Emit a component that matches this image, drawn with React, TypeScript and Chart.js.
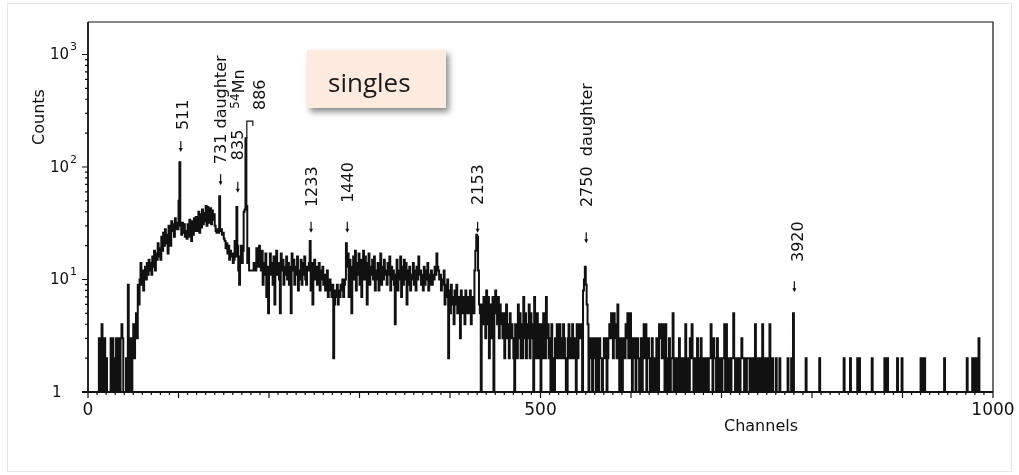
import React, { useEffect, useRef } from 'react';
import { Chart, registerables } from 'chart.js';

Chart.register(...registerables);

// ---- data: counts per channel (value 1 = empty / baseline) ----
const X_MIN = 0;
const X_MAX = 1000;
const Y_MIN = 1;
const Y_MAX = 1945;

const counts000 = [
  1, 1, 1, 1, 1, 1, 1, 1, 1, 1,
  1, 1, 1, 3, 3, 1, 4, 1, 2, 3,
  1, 2, 1, 1, 1, 1, 3, 1, 3, 2,
  1, 1, 3, 1, 3, 3, 1, 3, 4, 3,
  1, 1, 1, 2, 1, 9, 1, 3, 2, 1,
  3, 4, 2, 4, 5, 3, 9, 6, 10, 14,
  9, 12, 8, 11, 13, 10, 14, 11, 15, 12,
  14, 11, 16, 13, 18, 12, 17, 15, 21, 16,
  19, 15, 24, 18, 26, 20, 28, 21, 25, 17,
  30, 24, 20, 33, 27, 31, 24, 35, 28, 32,
];
const counts100 = [
  28, 50, 110, 30, 25, 32, 26, 31, 24, 27,
  23, 31, 24, 34, 26, 22, 33, 25, 35, 27,
  36, 27, 33, 40, 26, 38, 29, 42, 31, 39,
  33, 45, 30, 44, 36, 32, 43, 31, 41, 34,
  38, 30, 27, 26, 28, 26, 55, 27, 28, 25,
  26, 23, 22, 19, 21, 17, 20, 15, 18, 16,
  17, 14, 15, 22, 16, 44, 20, 12, 9, 16,
  20, 14, 18, 40, 42, 180, 45, 14, 19, 12,
  12, 12, 12, 12, 14, 12, 12, 19, 15, 13,
  20, 16, 12, 18, 9, 14, 11, 17, 7, 13,
];
const counts200 = [
  5, 12, 17, 11, 14, 9, 16, 6, 13, 18,
  11, 14, 10, 5, 17, 12, 15, 9, 13, 11,
  16, 10, 14, 9, 13, 5, 17, 12, 15, 9,
  13, 11, 16, 8, 12, 10, 15, 9, 14, 11,
  16, 10, 9, 13, 12, 14, 22, 8, 14, 6,
  12, 15, 10, 13, 9, 11, 14, 8, 12, 10,
  13, 9, 11, 8, 10, 12, 7, 9, 10, 8,
  7, 9, 2, 6, 8, 7, 9, 6, 8, 7,
  9, 8, 10, 7, 9, 10, 21, 13, 17, 7,
  15, 9, 5, 13, 16, 10, 18, 8, 14, 11,
];
const counts300 = [
  17, 9, 15, 7, 12, 18, 10, 16, 11, 6,
  14, 17, 9, 13, 11, 15, 10, 16, 8, 12,
  10, 14, 8, 12, 17, 9, 13, 10, 15, 11,
  12, 9, 14, 11, 16, 8, 13, 10, 12, 9,
  4, 11, 15, 8, 12, 10, 16, 7, 13, 9,
  15, 10, 14, 6, 12, 9, 13, 8, 11, 10,
  14, 9, 12, 8, 13, 10, 16, 11, 12, 9,
  11, 8, 13, 9, 12, 10, 14, 8, 11, 9,
  12, 9, 11, 10, 13, 11, 17, 13, 12, 10,
  11, 8, 10, 9, 12, 6, 9, 7, 10, 2,
];
const counts400 = [
  8, 5, 9, 6, 7, 4, 8, 6, 9, 5,
  7, 6, 3, 8, 5, 7, 6, 4, 8, 5,
  6, 7, 5, 8, 4, 6, 7, 5, 12, 18,
  25, 24, 12, 6, 5, 1, 6, 4, 7, 5,
  3, 8, 4, 7, 2, 5, 6, 3, 7, 1,
  5, 8, 6, 4, 7, 3, 6, 4, 5, 3,
  5, 2, 4, 6, 3, 4, 2, 5, 3, 4,
  3, 2, 1, 4, 3, 2, 6, 3, 5, 2,
  4, 2, 7, 3, 5, 2, 4, 3, 6, 2,
  5, 3, 4, 1, 7, 2, 3, 5, 2, 4,
];
const counts500 = [
  3, 1, 4, 2, 5, 3, 2, 7, 3, 4,
  2, 3, 1, 4, 1, 2, 1, 3, 2, 4,
  3, 2, 4, 2, 3, 2, 4, 3, 2, 1,
  1, 3, 4, 2, 3, 2, 4, 3, 2, 3,
  1, 4, 2, 4, 3, 4, 4, 1, 8, 10,
  13, 9, 6, 4, 1, 3, 2, 3, 1, 2,
  3, 2, 1, 3, 2, 1, 3, 2, 2, 1,
  2, 3, 2, 3, 1, 2, 3, 4, 3, 5,
  4, 2, 5, 4, 3, 2, 6, 3, 1, 2,
  3, 1, 2, 3, 2, 4, 3, 5, 2, 4,
];
const counts600 = [
  5, 2, 1, 3, 2, 3, 1, 2, 3, 2,
  1, 2, 3, 1, 2, 4, 2, 4, 1, 2,
  3, 2, 1, 2, 3, 1, 2, 2, 1, 3,
  2, 1, 4, 3, 4, 2, 4, 3, 1, 4,
  2, 1, 2, 3, 1, 2, 2, 5, 1, 2,
  1, 2, 2, 1, 3, 2, 1, 2, 2, 1,
  2, 4, 1, 2, 2, 1, 3, 2, 4, 2,
  1, 2, 2, 1, 3, 2, 1, 2, 3, 1,
  2, 1, 2, 2, 1, 2, 1, 2, 2, 4,
  2, 1, 3, 2, 2, 1, 3, 2, 1, 2,
];
const counts700 = [
  2, 1, 2, 2, 4, 1, 4, 2, 1, 2,
  2, 1, 2, 2, 5, 2, 1, 2, 2, 1,
  2, 1, 2, 3, 2, 2, 1, 2, 1, 2,
  2, 2, 1, 2, 1, 2, 2, 1, 4, 1,
  2, 1, 2, 2, 1, 2, 4, 1, 2, 1,
  2, 1, 2, 1, 4, 1, 1, 2, 1, 1,
  1, 2, 1, 1, 1, 2, 1, 1, 1, 1,
  1, 1, 1, 1, 2, 1, 1, 1, 2, 1,
  5, 1, 1, 1, 1, 1, 1, 1, 1, 1,
  1, 1, 1, 1, 2, 1, 1, 1, 1, 1,
];
const counts800 = [
  1, 1, 1, 1, 1, 1, 1, 1, 1, 2,
  1, 1, 1, 1, 1, 1, 1, 1, 1, 1,
  1, 1, 1, 1, 1, 1, 1, 1, 1, 1,
  1, 1, 1, 1, 1, 1, 2, 1, 1, 1,
  1, 1, 1, 2, 1, 1, 1, 1, 1, 1,
  1, 2, 1, 2, 1, 1, 1, 1, 1, 1,
  1, 1, 1, 1, 1, 1, 1, 2, 1, 1,
  1, 1, 1, 1, 1, 1, 1, 1, 1, 1,
  1, 2, 1, 1, 2, 1, 1, 1, 1, 1,
  1, 1, 1, 1, 1, 2, 1, 1, 1, 1,
];
const counts900 = [
  2, 1, 1, 1, 1, 1, 1, 1, 1, 1,
  1, 1, 1, 1, 1, 1, 1, 1, 1, 1,
  1, 2, 1, 2, 1, 2, 1, 1, 1, 1,
  1, 1, 1, 1, 1, 1, 1, 1, 1, 1,
  1, 1, 1, 1, 1, 1, 1, 2, 1, 1,
  1, 1, 1, 1, 1, 1, 1, 1, 1, 1,
  1, 1, 1, 1, 1, 1, 1, 1, 1, 1,
  1, 1, 2, 1, 1, 1, 1, 1, 2, 1,
  2, 1, 1, 2, 1, 3, 1, 1, 1, 1,
  1, 1, 1, 1, 1, 1, 1, 1, 1, 1,
];

// axis ticks
const xTickLabelValues = [0, 500, 1000];
const xMajorStep = 100;
const xMinorStep = 10;
const yTickValues = [1, 10, 100, 1000];
const yTickExponents = [0, 1, 2, 3];

// peak annotations (marker/label anchors in data units)
const peakLabels = ['511', '731 daughter', '835', '886', '1233', '1440', '2153', '2750  daughter', '3920'];
const peakChannels = [102, 146, 165, 175, 246, 286, 430, 550, 780];
const peakMarkerTops = [136, 69, 59, 256, 26, 26, 26, 21, 7.7];
const peakMarkerKinds = ['arrow', 'arrow', 'arrow', 'bracket', 'arrow', 'arrow', 'arrow', 'arrow', 'arrow'];
const peakLabelBases = [213, 106, 115, 321, 44, 48, 46, 44, 14.3];
const peakLabelChannels = [105.5, 148, 167, 191, 248, 288, 432, 552.5, 785.5];
const peakNuclides = ['', '', '54|Mn', '', '', '', '', '', ''];

const FONT = '"DejaVu Sans", sans-serif';

export default function App() {
  const ref = useRef<HTMLCanvasElement>(null);

  useEffect(() => {
    const canvas = ref.current;
    if (!canvas) return;
    const counts = [
      ...counts000, ...counts100, ...counts200, ...counts300, ...counts400,
      ...counts500, ...counts600, ...counts700, ...counts800, ...counts900,
    ];
    const points = counts.map((c, i) => ({ x: X_MIN + i, y: c }));
    points.push({ x: X_MAX, y: counts[counts.length - 1] });

    const overlay = {
      id: 'overlay',
      afterDraw(chart: any) {
        const ctx = chart.ctx as CanvasRenderingContext2D;
        const xs = chart.scales.x;
        const ys = chart.scales.y;
        const { left, right, top, bottom } = chart.chartArea;
        ctx.save();

        // faint page edge of the scan
        ctx.strokeStyle = '#e6e6e6';
        ctx.lineWidth = 1;
        ctx.strokeRect(7.5, 3.5, 1004, 468);

        // frame
        ctx.strokeStyle = '#111';
        ctx.lineWidth = 1.8;
        ctx.beginPath();
        ctx.moveTo(left, top);
        ctx.lineTo(left, bottom);
        ctx.moveTo(left - 6, bottom);
        ctx.lineTo(right, bottom);
        ctx.stroke();
        ctx.lineWidth = 1.2;
        ctx.beginPath();
        ctx.moveTo(left, top);
        ctx.lineTo(right, top);
        ctx.lineTo(right, bottom);
        ctx.stroke();

        // x ticks
        ctx.lineWidth = 1.2;
        ctx.beginPath();
        for (let v = X_MIN; v <= X_MAX; v += xMinorStep) {
          const x = xs.getPixelForValue(v);
          const len = v % xMajorStep === 0 ? 6 : 3;
          ctx.moveTo(x, bottom);
          ctx.lineTo(x, bottom + len);
        }
        ctx.stroke();

        // x tick labels
        ctx.fillStyle = '#111';
        ctx.font = `17px ${FONT}`;
        ctx.textAlign = 'center';
        ctx.textBaseline = 'middle';
        xTickLabelValues.forEach((v) => {
          ctx.fillText(String(v), xs.getPixelForValue(v), bottom + 19);
        });

        // y ticks (log minor)
        ctx.beginPath();
        for (let d = 0; d <= 3; d++) {
          for (let m = 1; m <= 9; m++) {
            const v = m * Math.pow(10, d);
            if (v > Y_MAX) continue;
            const y = ys.getPixelForValue(v);
            const len = m === 1 ? 6 : 3;
            ctx.moveTo(left - len, y);
            ctx.lineTo(left, y);
          }
        }
        ctx.stroke();

        // y tick labels with superscripts
        ctx.textBaseline = 'middle';
        ctx.textAlign = 'left';
        yTickValues.forEach((v, i) => {
          const y = ys.getPixelForValue(v);
          const e = yTickExponents[i];
          ctx.font = `15px ${FONT}`;
          if (e === 0) {
            ctx.fillText('1', 52, y + 1);
          } else {
            ctx.fillText('10', 50, y + 1);
            const w = ctx.measureText('10').width;
            ctx.font = `11px ${FONT}`;
            ctx.fillText(String(e), 50 + w + 1, y - 7);
          }
        });

        // axis titles
        ctx.font = `16px ${FONT}`;
        ctx.textAlign = 'center';
        ctx.textBaseline = 'middle';
        ctx.fillText('Channels', 761, 427);
        ctx.save();
        ctx.translate(40, 117);
        ctx.rotate(-Math.PI / 2);
        ctx.fillText('Counts', 0, 0);
        ctx.restore();

        // peak annotations
        ctx.lineWidth = 1.2;
        peakLabels.forEach((label, i) => {
          const ch = peakChannels[i];
          const px = xs.getPixelForValue(ch + 0.5);
          const tipY = ys.getPixelForValue(peakMarkerTops[i]);
          ctx.strokeStyle = '#111';
          ctx.fillStyle = '#111';
          if (peakMarkerKinds[i] === 'arrow') {
            ctx.beginPath();
            ctx.moveTo(px, tipY - 11);
            ctx.lineTo(px, tipY - 2);
            ctx.stroke();
            ctx.beginPath();
            ctx.moveTo(px - 2, tipY - 4);
            ctx.lineTo(px + 2, tipY - 4);
            ctx.lineTo(px, tipY);
            ctx.closePath();
            ctx.fill();
          } else {
            const peakY = ys.getPixelForValue(counts[ch - X_MIN]);
            ctx.beginPath();
            ctx.moveTo(px, peakY);
            ctx.lineTo(px, tipY);
            ctx.lineTo(px + 6, tipY);
            ctx.lineTo(px + 6, tipY + 5);
            ctx.stroke();
          }
          const lx = xs.getPixelForValue(peakLabelChannels[i]);
          const ly = ys.getPixelForValue(peakLabelBases[i]);
          ctx.save();
          ctx.translate(lx, ly);
          ctx.rotate(-Math.PI / 2);
          ctx.font = `16px ${FONT}`;
          ctx.textAlign = 'left';
          ctx.textBaseline = 'middle';
          ctx.fillText(label, 0, 0);
          if (peakNuclides[i]) {
            const [mass, sym] = peakNuclides[i].split('|');
            let u = ctx.measureText(label).width + 21;
            ctx.font = `12px ${FONT}`;
            ctx.fillText(mass, u, -3);
            u += ctx.measureText(mass).width;
            ctx.font = `16px ${FONT}`;
            ctx.fillText(sym, u, 1);
          }
          ctx.restore();
        });

        // "singles" note box
        ctx.save();
        ctx.shadowColor = 'rgba(0,0,0,0.45)';
        ctx.shadowBlur = 6;
        ctx.shadowOffsetX = 3;
        ctx.shadowOffsetY = 4;
        ctx.fillStyle = '#fdebdf';
        ctx.fillRect(307, 50, 139, 58);
        ctx.restore();
        ctx.fillStyle = '#1a1a1a';
        ctx.font = '26px "Open Sans", sans-serif';
        ctx.textAlign = 'left';
        ctx.textBaseline = 'alphabetic';
        ctx.fillText('singles', 328, 92);

        ctx.restore();
      },
    };

    const chart = new Chart(canvas, {
      type: 'line',
      data: {
        datasets: [
          {
            data: points,
            stepped: 'after',
            borderColor: '#111',
            borderWidth: 2,
            pointRadius: 0,
            fill: false,
          } as any,
        ],
      },
      options: {
        animation: false,
        responsive: false,
        maintainAspectRatio: false,
        layout: { padding: { top: 22, right: 26, left: 0, bottom: 0 } },
        plugins: { legend: { display: false }, tooltip: { enabled: false } },
        scales: {
          x: {
            type: 'linear',
            min: X_MIN,
            max: X_MAX,
            grid: { display: false },
            border: { display: false },
            ticks: { display: false },
            afterFit: (s: any) => {
              s.height = 83;
            },
          },
          y: {
            type: 'logarithmic',
            min: Y_MIN,
            max: Y_MAX,
            grid: { display: false },
            border: { display: false },
            ticks: { display: false },
            afterFit: (s: any) => {
              s.width = 88;
            },
          },
        },
      } as any,
      plugins: [overlay],
    });
    return () => chart.destroy();
  }, []);

  return (
    <div style={{ position: 'fixed', left: 0, top: 0, width: 1019, height: 475, background: '#fff' }}>
      <canvas ref={ref} width={1019} height={475} style={{ width: 1019, height: 475, display: 'block' }} />
    </div>
  );
}
